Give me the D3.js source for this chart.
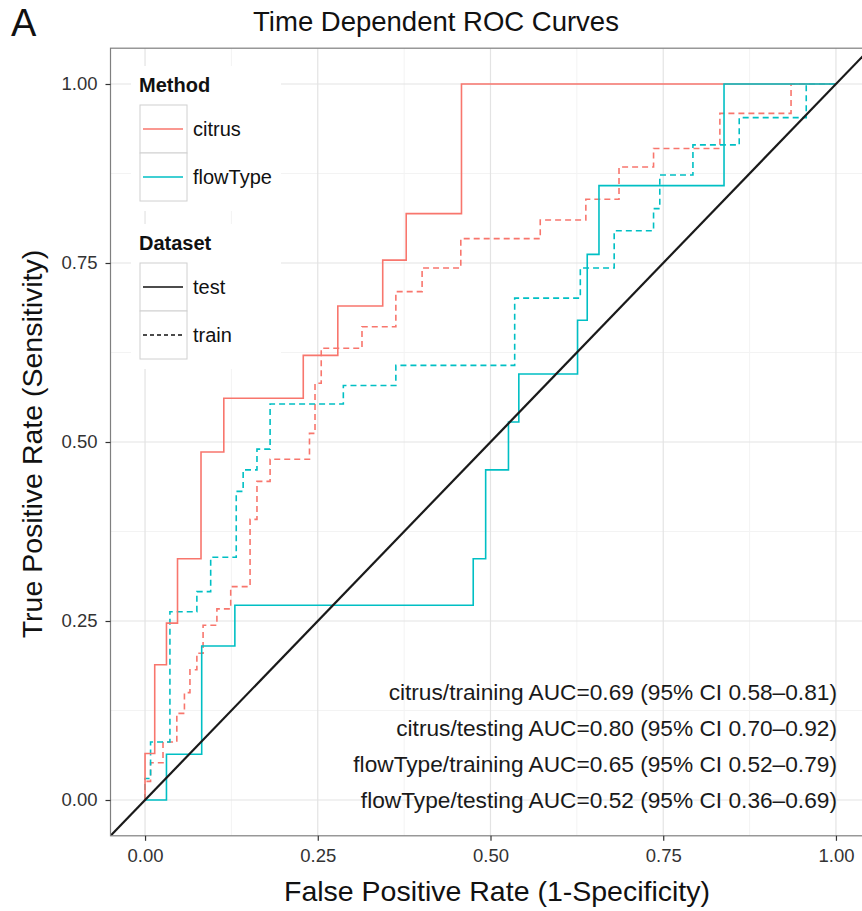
<!DOCTYPE html>
<html>
<head>
<meta charset="utf-8">
<script src="https://cdn.jsdelivr.net/npm/d3@7"></script>
<style>
  html, body { margin: 0; padding: 0; background: #fff; }
  svg { display: block; font-family: "Liberation Sans", Arial, Helvetica, sans-serif; }
</style>
</head>
<body>
<svg id="chart" width="862" height="911"></svg>
<script>
// ---- data (FPR / TPR corner points of each step curve) ----
const citrusTestFPR  = [0, 0, 0.014, 0.031, 0.047, 0.081, 0.114, 0.229, 0.279, 0.344, 0.378, 0.458, 1];
const citrusTestTPR  = [0, 0.065, 0.189, 0.247, 0.337, 0.486, 0.561, 0.621, 0.690, 0.754, 0.819, 1, 1];

const citrusTrainFPR = [0, 0, 0.008, 0.026, 0.046, 0.057, 0.065, 0.075, 0.084, 0.104, 0.124, 0.152, 0.162, 0.181, 0.238, 0.246, 0.255, 0.314, 0.363, 0.401, 0.457, 0.572, 0.638, 0.686, 0.736, 0.832, 0.935, 1];
const citrusTrainTPR = [0, 0.026, 0.052, 0.081, 0.121, 0.150, 0.182, 0.205, 0.244, 0.267, 0.298, 0.392, 0.445, 0.476, 0.512, 0.582, 0.631, 0.661, 0.710, 0.743, 0.784, 0.810, 0.839, 0.884, 0.910, 0.959, 1, 1];

const flowTestFPR    = [0, 0.031, 0.082, 0.130, 0.475, 0.493, 0.526, 0.541, 0.626, 0.640, 0.657, 0.838, 1];
const flowTestTPR    = [0, 0.064, 0.215, 0.272, 0.337, 0.461, 0.528, 0.595, 0.670, 0.762, 0.858, 1, 1];

const flowTrainFPR   = [0, 0, 0.008, 0.036, 0.075, 0.095, 0.132, 0.142, 0.162, 0.181, 0.287, 0.363, 0.535, 0.630, 0.679, 0.736, 0.745, 0.793, 0.860, 0.957, 1];
const flowTrainTPR   = [0, 0.030, 0.081, 0.263, 0.291, 0.339, 0.431, 0.461, 0.490, 0.553, 0.579, 0.607, 0.701, 0.743, 0.795, 0.826, 0.873, 0.915, 0.953, 1, 1];

const methods  = ["citrus", "flowType"];
const datasets = ["test", "train"];
const tickValues = [0, 0.25, 0.5, 0.75, 1];
const tickLabels = ["0.00", "0.25", "0.50", "0.75", "1.00"];
const minorValues = [0.125, 0.375, 0.625, 0.875];
const aucLabels = [
  "citrus/training AUC=0.69 (95% CI 0.58\u20130.81)",
  "citrus/testing AUC=0.80 (95% CI 0.70\u20130.92)",
  "flowType/training AUC=0.65 (95% CI 0.52\u20130.79)",
  "flowType/testing AUC=0.52 (95% CI 0.36\u20130.69)"
];

const series = [
  { method: "citrus",   dataset: "train", fpr: citrusTrainFPR, tpr: citrusTrainTPR },
  { method: "flowType", dataset: "train", fpr: flowTrainFPR,   tpr: flowTrainTPR },
  { method: "citrus",   dataset: "test",  fpr: citrusTestFPR,  tpr: citrusTestTPR },
  { method: "flowType", dataset: "test",  fpr: flowTestFPR,    tpr: flowTestTPR }
];

// ---- layout ----
const svg = d3.select("#chart");
const panel = { left: 110.5, right: 870.5, top: 48.2, bottom: 835.8 };

const x = d3.scaleLinear().domain([-0.05, 1.05]).range([panel.left, panel.right]);
const y = d3.scaleLinear().domain([-0.05, 1.05]).range([panel.bottom, panel.top]);
const color = d3.scaleOrdinal().domain(methods).range(["#F8766D", "#00BFC4"]);
const dash = d3.scaleOrdinal().domain(datasets).range(["none", "6,4"]);

svg.append("defs").append("clipPath").attr("id", "clip")
  .append("rect").attr("x", panel.left).attr("y", panel.top)
  .attr("width", panel.right - panel.left).attr("height", panel.bottom - panel.top);

svg.append("rect").attr("x", panel.left).attr("y", panel.top)
  .attr("width", panel.right - panel.left).attr("height", panel.bottom - panel.top)
  .attr("fill", "#fff");

const grid = svg.append("g").attr("clip-path", "url(#clip)");
grid.selectAll(".vminor").data(minorValues).join("line")
  .attr("x1", d => x(d)).attr("x2", d => x(d)).attr("y1", panel.top).attr("y2", panel.bottom)
  .attr("stroke", "#f3f3f3").attr("stroke-width", 1);
grid.selectAll(".hminor").data(minorValues).join("line")
  .attr("y1", d => y(d)).attr("y2", d => y(d)).attr("x1", panel.left).attr("x2", panel.right)
  .attr("stroke", "#f3f3f3").attr("stroke-width", 1);
grid.selectAll(".vmajor").data(tickValues).join("line")
  .attr("x1", d => x(d)).attr("x2", d => x(d)).attr("y1", panel.top).attr("y2", panel.bottom)
  .attr("stroke", "#e3e3e3").attr("stroke-width", 1.2);
grid.selectAll(".hmajor").data(tickValues).join("line")
  .attr("y1", d => y(d)).attr("y2", d => y(d)).attr("x1", panel.left).attr("x2", panel.right)
  .attr("stroke", "#e3e3e3").attr("stroke-width", 1.2);

// curves
const plot = svg.append("g").attr("clip-path", "url(#clip)");
const line = d3.line().x(d => x(d[0])).y(d => y(d[1])).curve(d3.curveStepAfter);
plot.selectAll(".roc").data(series).join("path")
  .attr("d", s => line(s.fpr.map((f, i) => [f, s.tpr[i]])))
  .attr("fill", "none")
  .attr("stroke", s => color(s.method))
  .attr("stroke-width", 1.6)
  .attr("stroke-dasharray", s => dash(s.dataset));

// diagonal reference line
plot.append("line")
  .attr("x1", x(-0.05)).attr("y1", y(-0.05)).attr("x2", x(1.05)).attr("y2", y(1.05))
  .attr("stroke", "#1a1a1a").attr("stroke-width", 2.2);

// AUC annotations
svg.append("g").selectAll("text").data(aucLabels).join("text")
  .attr("x", x(1) + 1)
  .attr("y", (d, i) => 700 + i * 36)
  .attr("text-anchor", "end")
  .attr("font-size", 22.7)
  .attr("fill", "#1a1a1a")
  .text(d => d);

// panel border
svg.append("rect").attr("x", panel.left).attr("y", panel.top)
  .attr("width", panel.right - panel.left).attr("height", panel.bottom - panel.top)
  .attr("fill", "none").attr("stroke", "#7f7f7f").attr("stroke-width", 1.2);

// axes
const xAxis = d3.axisBottom(x).tickValues(tickValues).tickFormat((d, i) => tickLabels[i]).tickSize(5).tickPadding(8);
const yAxis = d3.axisLeft(y).tickValues(tickValues).tickFormat((d, i) => tickLabels[i]).tickSize(5).tickPadding(8);
const gx = svg.append("g").attr("transform", `translate(0,${panel.bottom})`).call(xAxis);
const gy = svg.append("g").attr("transform", `translate(${panel.left},0)`).call(yAxis);
[gx, gy].forEach(g => {
  g.select(".domain").remove();
  g.selectAll(".tick line").attr("stroke", "#333").attr("stroke-width", 1.2);
  g.selectAll(".tick text").attr("font-size", 18.5).attr("fill", "#333")
    .attr("font-family", "'Liberation Sans', Arial, sans-serif");
});

// titles
svg.append("text").attr("x", 436).attr("y", 31).attr("text-anchor", "middle")
  .attr("font-size", 27.5).attr("fill", "#111").text("Time Dependent ROC Curves");
svg.append("text").attr("x", 11).attr("y", 36)
  .attr("font-size", 38).attr("fill", "#111").text("A");
svg.append("text").attr("x", 497).attr("y", 901).attr("text-anchor", "middle")
  .attr("font-size", 28.5).attr("fill", "#111").text("False Positive Rate (1-Specificity)");
svg.append("text").attr("transform", `translate(42,${y(0.5) + 2}) rotate(-90)`).attr("text-anchor", "middle")
  .attr("font-size", 28.5).attr("fill", "#111").text("True Positive Rate (Sensitivity)");

// legends
const legend = svg.append("g");
function drawLegend(top, title, keys, keyFn, bgHeight) {
  legend.append("rect").attr("x", 131).attr("y", top - 10).attr("width", 150).attr("height", bgHeight).attr("fill", "#fff");
  legend.append("text").attr("x", 139).attr("y", top + 16).attr("font-size", 20).attr("font-weight", "bold")
    .attr("fill", "#111").text(title);
  keys.forEach((k, i) => {
    const ky = top + 29 + i * 48;
    legend.append("rect").attr("x", 140).attr("y", ky).attr("width", 47).attr("height", 48)
      .attr("fill", "#fff").attr("stroke", "#d0d0d0").attr("stroke-width", 1);
    keyFn(k, ky + 24);
    legend.append("text").attr("x", 193).attr("y", ky + 31).attr("font-size", 20).attr("fill", "#111").text(k);
  });
}
drawLegend(76, "Method", methods, (k, cy) => {
  legend.append("line").attr("x1", 143).attr("x2", 183).attr("y1", cy).attr("y2", cy)
    .attr("stroke", color(k)).attr("stroke-width", 1.5);
}, 145);
drawLegend(234, "Dataset", datasets, (k, cy) => {
  legend.append("line").attr("x1", 143).attr("x2", 183).attr("y1", cy).attr("y2", cy)
    .attr("stroke", "#111").attr("stroke-width", 1.5).attr("stroke-dasharray", k === "train" ? "4,3" : "none");
}, 145);
</script>
</body>
</html>
